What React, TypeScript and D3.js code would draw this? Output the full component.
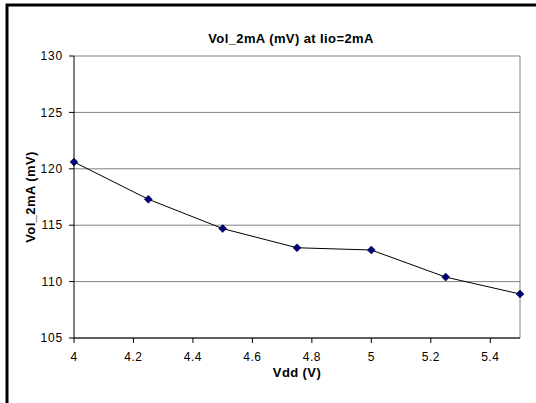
import React from "react";
import * as d3 from "d3";

const vdd = [4, 4.25, 4.5, 4.75, 5, 5.25, 5.5];
const vol = [120.6, 117.3, 114.7, 113.0, 112.8, 110.4, 108.9];
const xTicks = [4, 4.2, 4.4, 4.6, 4.8, 5, 5.2, 5.4];
const yTicks = [105, 110, 115, 120, 125, 130];
const title = "Vol_2mA (mV) at Iio=2mA";
const xLabel = "Vdd (V)";
const yLabel = "Vol_2mA (mV)";

export default function App() {
  const W = 536, H = 403;
  const left = 74, right = 520, top = 56, bottom = 338;
  const x = d3.scaleLinear().domain([4, 5.5]).range([left, right]);
  const y = d3.scaleLinear().domain([105, 130]).range([bottom, top]);
  const pts = vdd.map((v, i) => [x(v), y(vol[i])] as [number, number]);
  const line = d3.line()(pts) || "";
  const font = "'Liberation Sans', Arial, sans-serif";
  return (
    <svg width={W} height={H} style={{ position: "absolute", left: 0, top: 0 }} fontFamily={font}>
      <rect x={0} y={0} width={W} height={H} fill="white" />
      <rect x={7} y={5} width={W + 20} height={H + 20} fill="white" stroke="black" strokeWidth={3} />
      {yTicks.map((t) => (
        <g key={t}>
          <line x1={left} x2={right} y1={y(t)} y2={y(t)} stroke="#808080" strokeWidth={1} />
          <line x1={left - 5} x2={left} y1={y(t)} y2={y(t)} stroke="black" strokeWidth={1} />
          <text x={left - 11} y={y(t)} dy="0.35em" textAnchor="end" fontSize={12} letterSpacing={0.8}>{t}</text>
        </g>
      ))}
      <line x1={right} x2={right} y1={top} y2={bottom} stroke="#808080" strokeWidth={1} />
      <line x1={left} x2={left} y1={top} y2={bottom} stroke="black" strokeWidth={1} />
      <line x1={left} x2={right} y1={bottom} y2={bottom} stroke="black" strokeWidth={1} />
      {xTicks.map((t) => (
        <g key={t}>
          <line x1={x(t)} x2={x(t)} y1={bottom} y2={bottom + 5} stroke="black" strokeWidth={1} />
          <text x={x(t)} y={bottom + 19} dy="0.35em" textAnchor="middle" fontSize={12} letterSpacing={0.5}>{t}</text>
        </g>
      ))}
      <path d={line} fill="none" stroke="black" strokeWidth={1} />
      {pts.map((p, i) => (
        <path key={i} d={`M${p[0]},${p[1] - 4}L${p[0] + 4},${p[1]}L${p[0]},${p[1] + 4}L${p[0] - 4},${p[1]}Z`} fill="#000080" stroke="black" strokeWidth={0.5} />
      ))}
      <text x={291} y={38} dy="0.35em" textAnchor="middle" fontSize={13} fontWeight="bold" letterSpacing={0.4}>{title}</text>
      <text x={297} y={372} dy="0.35em" textAnchor="middle" fontSize={13} fontWeight="bold" letterSpacing={0.4}>{xLabel}</text>
      <text transform={`translate(30,${(top + bottom) / 2}) rotate(-90)`} dy="0.35em" textAnchor="middle" fontSize={13} fontWeight="bold" letterSpacing={0.4}>{yLabel}</text>
    </svg>
  );
}
